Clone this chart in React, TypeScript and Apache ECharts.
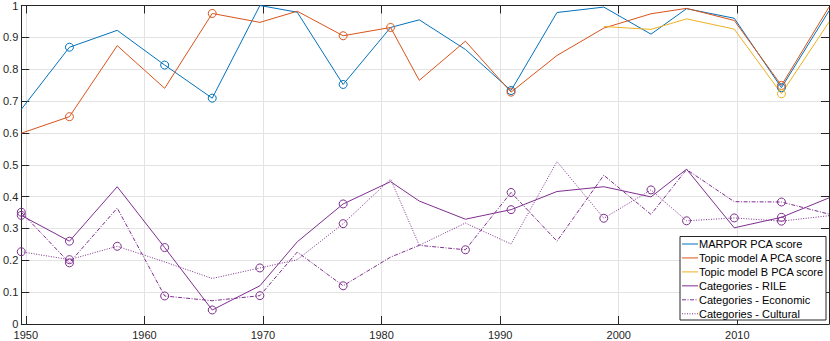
import React, { useEffect, useRef } from "react";
import * as echarts from "echarts";

// German federal election dates (decimal years)
const electionDates = [
  1949.62, 1953.68, 1957.71, 1961.71, 1965.72, 1969.74, 1972.89, 1976.76, 1980.76, 1983.18,
  1987.07, 1990.92, 1994.79, 1998.74, 2002.72, 2005.72, 2009.74, 2013.72, 2017.73,
];

const marporPCA = [0.674, 0.869, 0.922, 0.813, 0.709, 1.0, 0.979, 0.752, 0.931, 0.955, 0.862, 0.733, 0.978, 0.995, 0.91, 0.99, 0.96, 0.742, 0.983];
const marporMarks = [0, 1, 0, 1, 1, 0, 0, 1, 0, 0, 0, 1, 0, 0, 0, 0, 0, 1, 0];

const topicA = [0.599, 0.651, 0.874, 0.74, 0.975, 0.947, 0.982, 0.905, 0.931, 0.765, 0.888, 0.728, 0.843, 0.929, 0.974, 0.991, 0.953, 0.749, 0.995];
const topicAMarks = [0, 1, 0, 0, 1, 0, 0, 1, 1, 0, 0, 1, 0, 0, 0, 0, 0, 1, 0];

const topicB = [null, null, null, null, null, null, null, null, null, null, null, null, null, 0.934, 0.925, 0.958, 0.926, 0.723, 0.948];
const topicBMarks = [0, 0, 0, 0, 0, 0, 0, 0, 0, 0, 0, 0, 0, 0, 0, 0, 0, 1, 0];

const rile = [0.341, 0.26, 0.431, 0.24, 0.044, 0.12, 0.258, 0.377, 0.447, 0.386, 0.329, 0.359, 0.416, 0.431, 0.399, 0.486, 0.302, 0.335, 0.396];
const rileMarks = [1, 1, 0, 1, 1, 0, 0, 1, 0, 0, 0, 1, 0, 0, 0, 0, 0, 1, 0];

const economic = [0.351, 0.192, 0.364, 0.088, 0.073, 0.089, 0.226, 0.12, 0.21, 0.247, 0.233, 0.413, 0.26, 0.467, 0.344, 0.485, 0.384, 0.383, 0.345];
const economicMarks = [1, 1, 0, 1, 0, 1, 0, 1, 0, 0, 1, 1, 0, 0, 0, 0, 0, 1, 0];

const cultural = [0.227, 0.202, 0.244, 0.195, 0.143, 0.176, 0.202, 0.315, 0.455, 0.247, 0.317, 0.251, 0.51, 0.332, 0.421, 0.324, 0.333, 0.323, 0.34];
const culturalMarks = [1, 1, 1, 0, 0, 1, 0, 1, 0, 0, 0, 0, 0, 1, 1, 1, 1, 1, 0];

const xTickValues = [1950, 1960, 1970, 1980, 1990, 2000, 2010];
const seriesNames = [
  "MARPOR PCA score",
  "Topic model A PCA score",
  "Topic model B PCA score",
  "Categories - RILE",
  "Categories - Economic",
  "Categories - Cultural",
];

const BLUE = "#0072BD";
const ORANGE = "#D95319";
const YELLOW = "#EDB120";
const PURPLE = "#7E2F8E";
const FONT = "'Liberation Sans', Arial, Helvetica, sans-serif";
const AXIS = "#262626";
const GRID = "#e3e3e3";

const DASHDOT = [4, 1.5, 1, 1.5];
const DOTTED = [1, 1.5];

function buildData(values: (number | null)[], marks: number[]) {
  const out: any[] = [];
  values.forEach((v, i) => {
    if (v === null) return;
    out.push({ value: [electionDates[i], v], symbol: marks[i] ? "circle" : "none" });
  });
  return out;
}

function makeSeries(name: string, values: (number | null)[], marks: number[], color: string, dash: any) {
  return {
    name,
    type: "line",
    data: buildData(values, marks),
    symbol: "circle",
    symbolSize: 8,
    showSymbol: true,
    showAllSymbol: true,
    lineStyle: { color, width: 1, type: dash },
    itemStyle: { color: "rgba(0,0,0,0)", borderColor: color, borderWidth: 1 },
    emphasis: { disabled: true },
    z: 3,
  };
}

export default function App() {
  const ref = useRef<HTMLDivElement>(null);
  useEffect(() => {
    if (!ref.current) return;
    const chart = echarts.init(ref.current, null, { renderer: "svg" });
    const colors = [BLUE, ORANGE, YELLOW, PURPLE, PURPLE, PURPLE];
    const dashes: any[] = ["solid", "solid", "solid", "solid", DASHDOT, DOTTED];

    const lx = 680;
    const ly = 236.5;
    const rowH = 13.95;
    const legendEls: any[] = [
      {
        type: "rect",
        shape: { x: lx, y: ly, width: 146, height: 83.5 },
        style: { fill: "#fff", stroke: AXIS, lineWidth: 1 },
        z: 10,
      },
    ];
    seriesNames.forEach((n, i) => {
      const cy = ly + 7.5 + i * rowH;
      legendEls.push({
        type: "line",
        shape: { x1: lx + 2, y1: cy, x2: lx + 18, y2: cy },
        style: { stroke: colors[i], lineWidth: 1, lineDash: dashes[i] === "solid" ? null : dashes[i] },
        z: 11,
      });
      legendEls.push({
        type: "text",
        x: lx + 19,
        y: cy,
        style: {
          text: n,
          font: `11px ${FONT}`,
          fill: "#000",
          textVerticalAlign: "middle",
          verticalAlign: "middle",
        },
        z: 11,
      });
    });

    const xMin = electionDates[0];
    const xMax = electionDates[electionDates.length - 1];

    chart.setOption({
      animation: false,
      backgroundColor: "#fff",
      grid: { left: 20.5, top: 4, width: 808.5, height: 320, containLabel: false },
      xAxis: [
        {
          type: "value",
          position: "bottom",
          min: xMin,
          max: xMax,
          axisLine: { show: true, lineStyle: { color: AXIS, width: 1 } },
          axisTick: { show: true, inside: true, length: 8, customValues: xTickValues, lineStyle: { color: AXIS } },
          axisLabel: {
            show: true,
            customValues: xTickValues,
            formatter: (v: number) => String(v),
            color: AXIS,
            fontSize: 11,
            fontFamily: FONT,
            margin: 5,
            showMinLabel: true,
            showMaxLabel: true,
          },
          splitLine: { show: true, lineStyle: { color: GRID, width: 1 } },
        },
        {
          type: "value",
          position: "top",
          min: xMin,
          max: xMax,
          axisLine: { show: true, onZero: false, lineStyle: { color: AXIS, width: 1 } },
          axisTick: { show: true, inside: true, length: 8, customValues: xTickValues, lineStyle: { color: AXIS } },
          axisLabel: { show: false },
          splitLine: { show: false },
        },
      ],
      yAxis: [
        {
          type: "value",
          position: "left",
          min: 0,
          max: 1,
          interval: 0.1,
          axisLine: { show: true, lineStyle: { color: AXIS, width: 1 } },
          axisTick: { show: true, inside: true, length: 8, lineStyle: { color: AXIS } },
          axisLabel: {
            color: AXIS,
            fontSize: 11,
            fontFamily: FONT,
            margin: 3,
            formatter: (v: number) => String(Math.round(v * 10) / 10),
          },
          splitLine: { show: true, lineStyle: { color: GRID, width: 1 } },
        },
        {
          type: "value",
          position: "right",
          min: 0,
          max: 1,
          interval: 0.1,
          axisLine: { show: true, onZero: false, lineStyle: { color: AXIS, width: 1 } },
          axisTick: { show: true, inside: true, length: 8, lineStyle: { color: AXIS } },
          axisLabel: { show: false },
          splitLine: { show: false },
        },
      ],
      series: [
        makeSeries(seriesNames[0], marporPCA, marporMarks, BLUE, "solid"),
        makeSeries(seriesNames[1], topicA, topicAMarks, ORANGE, "solid"),
        makeSeries(seriesNames[2], topicB, topicBMarks, YELLOW, "solid"),
        makeSeries(seriesNames[3], rile, rileMarks, PURPLE, "solid"),
        makeSeries(seriesNames[4], economic, economicMarks, PURPLE, DASHDOT),
        makeSeries(seriesNames[5], cultural, culturalMarks, PURPLE, DOTTED),
      ],
      graphic: legendEls,
    });
    return () => chart.dispose();
  }, []);
  return <div ref={ref} style={{ position: "fixed", left: 0, top: 0, width: 830, height: 341 }} />;
}
